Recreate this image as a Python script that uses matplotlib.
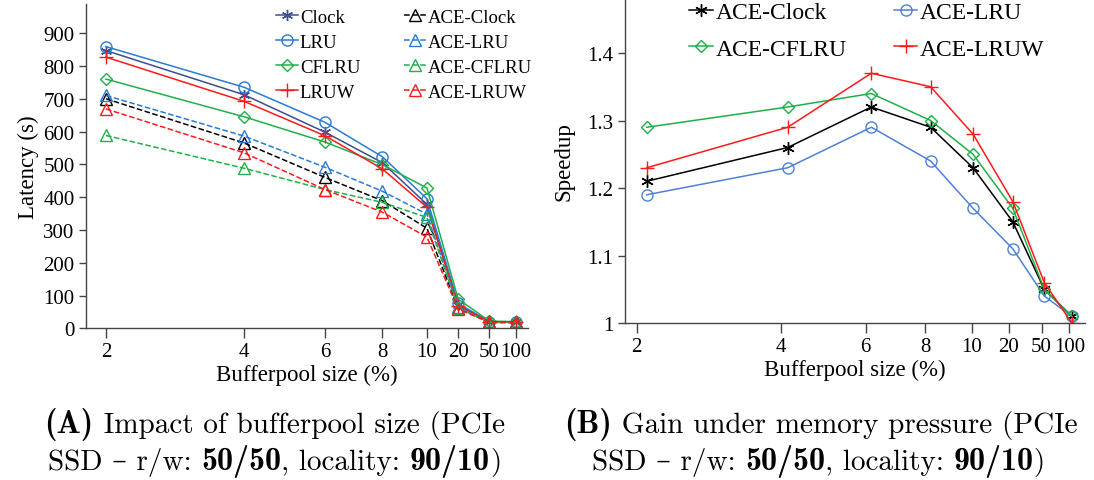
import numpy as np
import matplotlib.pyplot as plt
from matplotlib.ticker import NullLocator
from matplotlib.offsetbox import TextArea, HPacker, AnnotationBbox

plt.rcParams['font.family'] = ['Liberation Serif', 'DejaVu Serif']

# ---------------------------
# DATA
# ---------------------------
sizes = [2, 4, 6, 8, 10, 20, 50, 100]
size_labels = ["2", "4", "6", "8", "10", "20", "50", "100"]

# (A) latency in seconds
clock = [847, 712, 598, 505, 378, 72, 20, 20]
lru = [859, 735, 628, 523, 395, 76, 20, 20]
cflru = [760, 645, 568, 499, 428, 89, 22, 20]
lruw = [827, 692, 587, 486, 369, 69, 20, 20]
ace_clock = [700, 565, 460, 389, 305, 62, 18, 18]
ace_lru = [710, 586, 491, 418, 348, 64, 18, 18]
ace_cflru = [588, 488, 423, 384, 338, 62, 18, 18]
ace_lruw = [669, 535, 423, 354, 278, 59, 18, 18]

# (B) speedup, points sit a bit right of the ticks
sizes_b = [2.1, 4.13, 6.17, 8.2, 10.2, 22.3, 53.5, 106]
sp_clock = [1.21, 1.26, 1.32, 1.29, 1.23, 1.15, 1.05, 1.01]
sp_lru = [1.19, 1.23, 1.29, 1.24, 1.17, 1.11, 1.04, 1.01]
sp_cflru = [1.29, 1.32, 1.34, 1.30, 1.25, 1.17, 1.05, 1.01]
sp_lruw = [1.23, 1.29, 1.37, 1.35, 1.28, 1.18, 1.06, 1.00]

NAVY = "#3f4d8c"
BLUE = "#2a7bd4"
GREEN = "#1fb04a"
RED = "#ff1a1a"
BLUE_B = "#4f80d8"
ASTER = (6, 2, 0)


def squash(tail):
    # log axis up to 10 %, compressed above that
    lx = np.log10([0.01, 10, 20, 50, 100, 1000])
    pos = np.array([-2, 1] + tail + [tail[-1] + 0.2])

    def fwd(x):
        return np.interp(np.log10(np.clip(x, 1e-3, None)), lx, pos)

    def inv(p):
        return 10 ** np.interp(p, pos, lx)

    return fwd, inv


def style_axes(ax, fwd, inv, lo, hi):
    ax.set_xscale("function", functions=(fwd, inv))
    ax.set_xlim(inv(lo), inv(hi))
    ax.set_xticks(sizes)
    ax.set_xticklabels(size_labels)
    ax.xaxis.set_minor_locator(NullLocator())
    for s in ["top", "right"]:
        ax.spines[s].set_visible(False)
    for s in ["left", "bottom"]:
        ax.spines[s].set_color("#444444")
        ax.spines[s].set_linewidth(1.0)
    ax.tick_params(axis="x", length=7, width=1, color="#444444", labelsize=15, pad=3)
    ax.tick_params(axis="y", length=5, width=1, color="#444444", labelsize=15, pad=3)
    ax.set_xlabel("Bufferpool size (%)", fontsize=16.5, labelpad=2)


def caption(fig, xy, parts, size=21):
    # mixed regular / bold runs in Computer Modern, centred at xy
    boxes = []
    for s, bold in parts:
        if bold:
            props = dict(family=["cmb10", "DejaVu Serif"], size=size * 1.1)
        else:
            props = dict(family=["cmr10", "DejaVu Serif"], size=size)
        boxes.append(TextArea(s, textprops=props))
    row = HPacker(children=boxes, align="baseline", pad=0, sep=0)
    ab = AnnotationBbox(row, xy, xycoords="figure fraction", frameon=False,
                        box_alignment=(0.5, 0.5), pad=0)
    fig.add_artist(ab)


fig = plt.figure(figsize=(10.94, 4.81), dpi=100)

# ---------------------------
# (A) LATENCY
# ---------------------------
ax1 = fig.add_axes([0.0783, 0.3154, 0.4043, 0.6742])
f1, i1 = squash([1.068, 1.136, 1.194])
style_axes(ax1, f1, i1, 0.2568, 1.220)

kw = dict(lw=1.1, mfc="none", mew=1.0)
ax1.plot(sizes, clock, color=NAVY, marker=ASTER, ms=8, label="Clock", **kw)
ax1.plot(sizes, lru, color=BLUE, marker="o", ms=8, label="LRU", **kw)
ax1.plot(sizes, cflru, color=GREEN, marker="D", ms=6, label="CFLRU", **kw)
ax1.plot(sizes, lruw, color=RED, marker="+", ms=10, label="LRUW", **kw)
ax1.plot(sizes, ace_clock, color="black", marker="^", ms=8, ls="--", label="ACE-Clock", **kw)
ax1.plot(sizes, ace_lru, color=BLUE, marker="^", ms=8, ls="--", label="ACE-LRU", **kw)
ax1.plot(sizes, ace_cflru, color=GREEN, marker="^", ms=8, ls="--", label="ACE-CFLRU", **kw)
ax1.plot(sizes, ace_lruw, color=RED, marker="^", ms=8, ls="--", label="ACE-LRUW", **kw)

ax1.set_ylim(0, 989)
ax1.set_yticks(range(0, 901, 100))
ax1.set_ylabel("Latency (s)", fontsize=16.5, labelpad=3)
ax1.legend(ncol=2, loc="upper right", bbox_to_anchor=(1.035, 1.02), frameon=False,
           fontsize=13.5, handlelength=1.2, handletextpad=0.1, columnspacing=2.3,
           labelspacing=0.42, borderaxespad=0.2)

# ---------------------------
# (B) SPEEDUP
# ---------------------------
ax2 = fig.add_axes([0.571, 0.3264, 0.4208, 0.6736])
f2, i2 = squash([1.077, 1.145, 1.203])
style_axes(ax2, f2, i2, 0.2762, 1.2357)

b_clock, = ax2.plot(sizes_b, sp_clock, color="black", marker=ASTER, ms=9, label="ACE-Clock", **kw)
b_lru, = ax2.plot(sizes_b, sp_lru, color=BLUE_B, marker="o", ms=8, label="ACE-LRU", **kw)
b_cflru, = ax2.plot(sizes_b, sp_cflru, color=GREEN, marker="D", ms=6, label="ACE-CFLRU", **kw)
b_lruw, = ax2.plot(sizes_b, sp_lruw, color=RED, marker="+", ms=10, label="ACE-LRUW", **kw)

ax2.set_ylim(1, 1.48)
ax2.set_yticks([1, 1.1, 1.2, 1.3, 1.4])
ax2.set_yticklabels(["1", "1.1", "1.2", "1.3", "1.4"])
ax2.set_ylabel("Speedup", fontsize=16.5, labelpad=9)
# row-wise order like the original
ax2.legend(handles=[b_clock, b_cflru, b_lru, b_lruw], ncol=2, loc="upper left",
           bbox_to_anchor=(0.11, 1.035), frameon=False,
           fontsize=17, handlelength=1.0, handletextpad=0.1, columnspacing=2.0,
           labelspacing=0.62, borderaxespad=0.2)

# ---------------------------
# CAPTIONS
# ---------------------------
caption(fig, (0.251, 0.118), [("(A)", True), (" Impact of bufferpool size (PCIe", False)])
caption(fig, (0.251, 0.041), [("SSD \u2013 r/w: ", False), ("50/50", True),
                              (", locality: ", False), ("90/10", True), (")", False)])
caption(fig, (0.750, 0.118), [("(B)", True), (" Gain under memory pressure (PCIe", False)])
caption(fig, (0.748, 0.041), [("SSD \u2013 r/w: ", False), ("50/50", True),
                              (", locality: ", False), ("90/10", True), (")", False)])

fig.savefig("out.png", dpi=100)
